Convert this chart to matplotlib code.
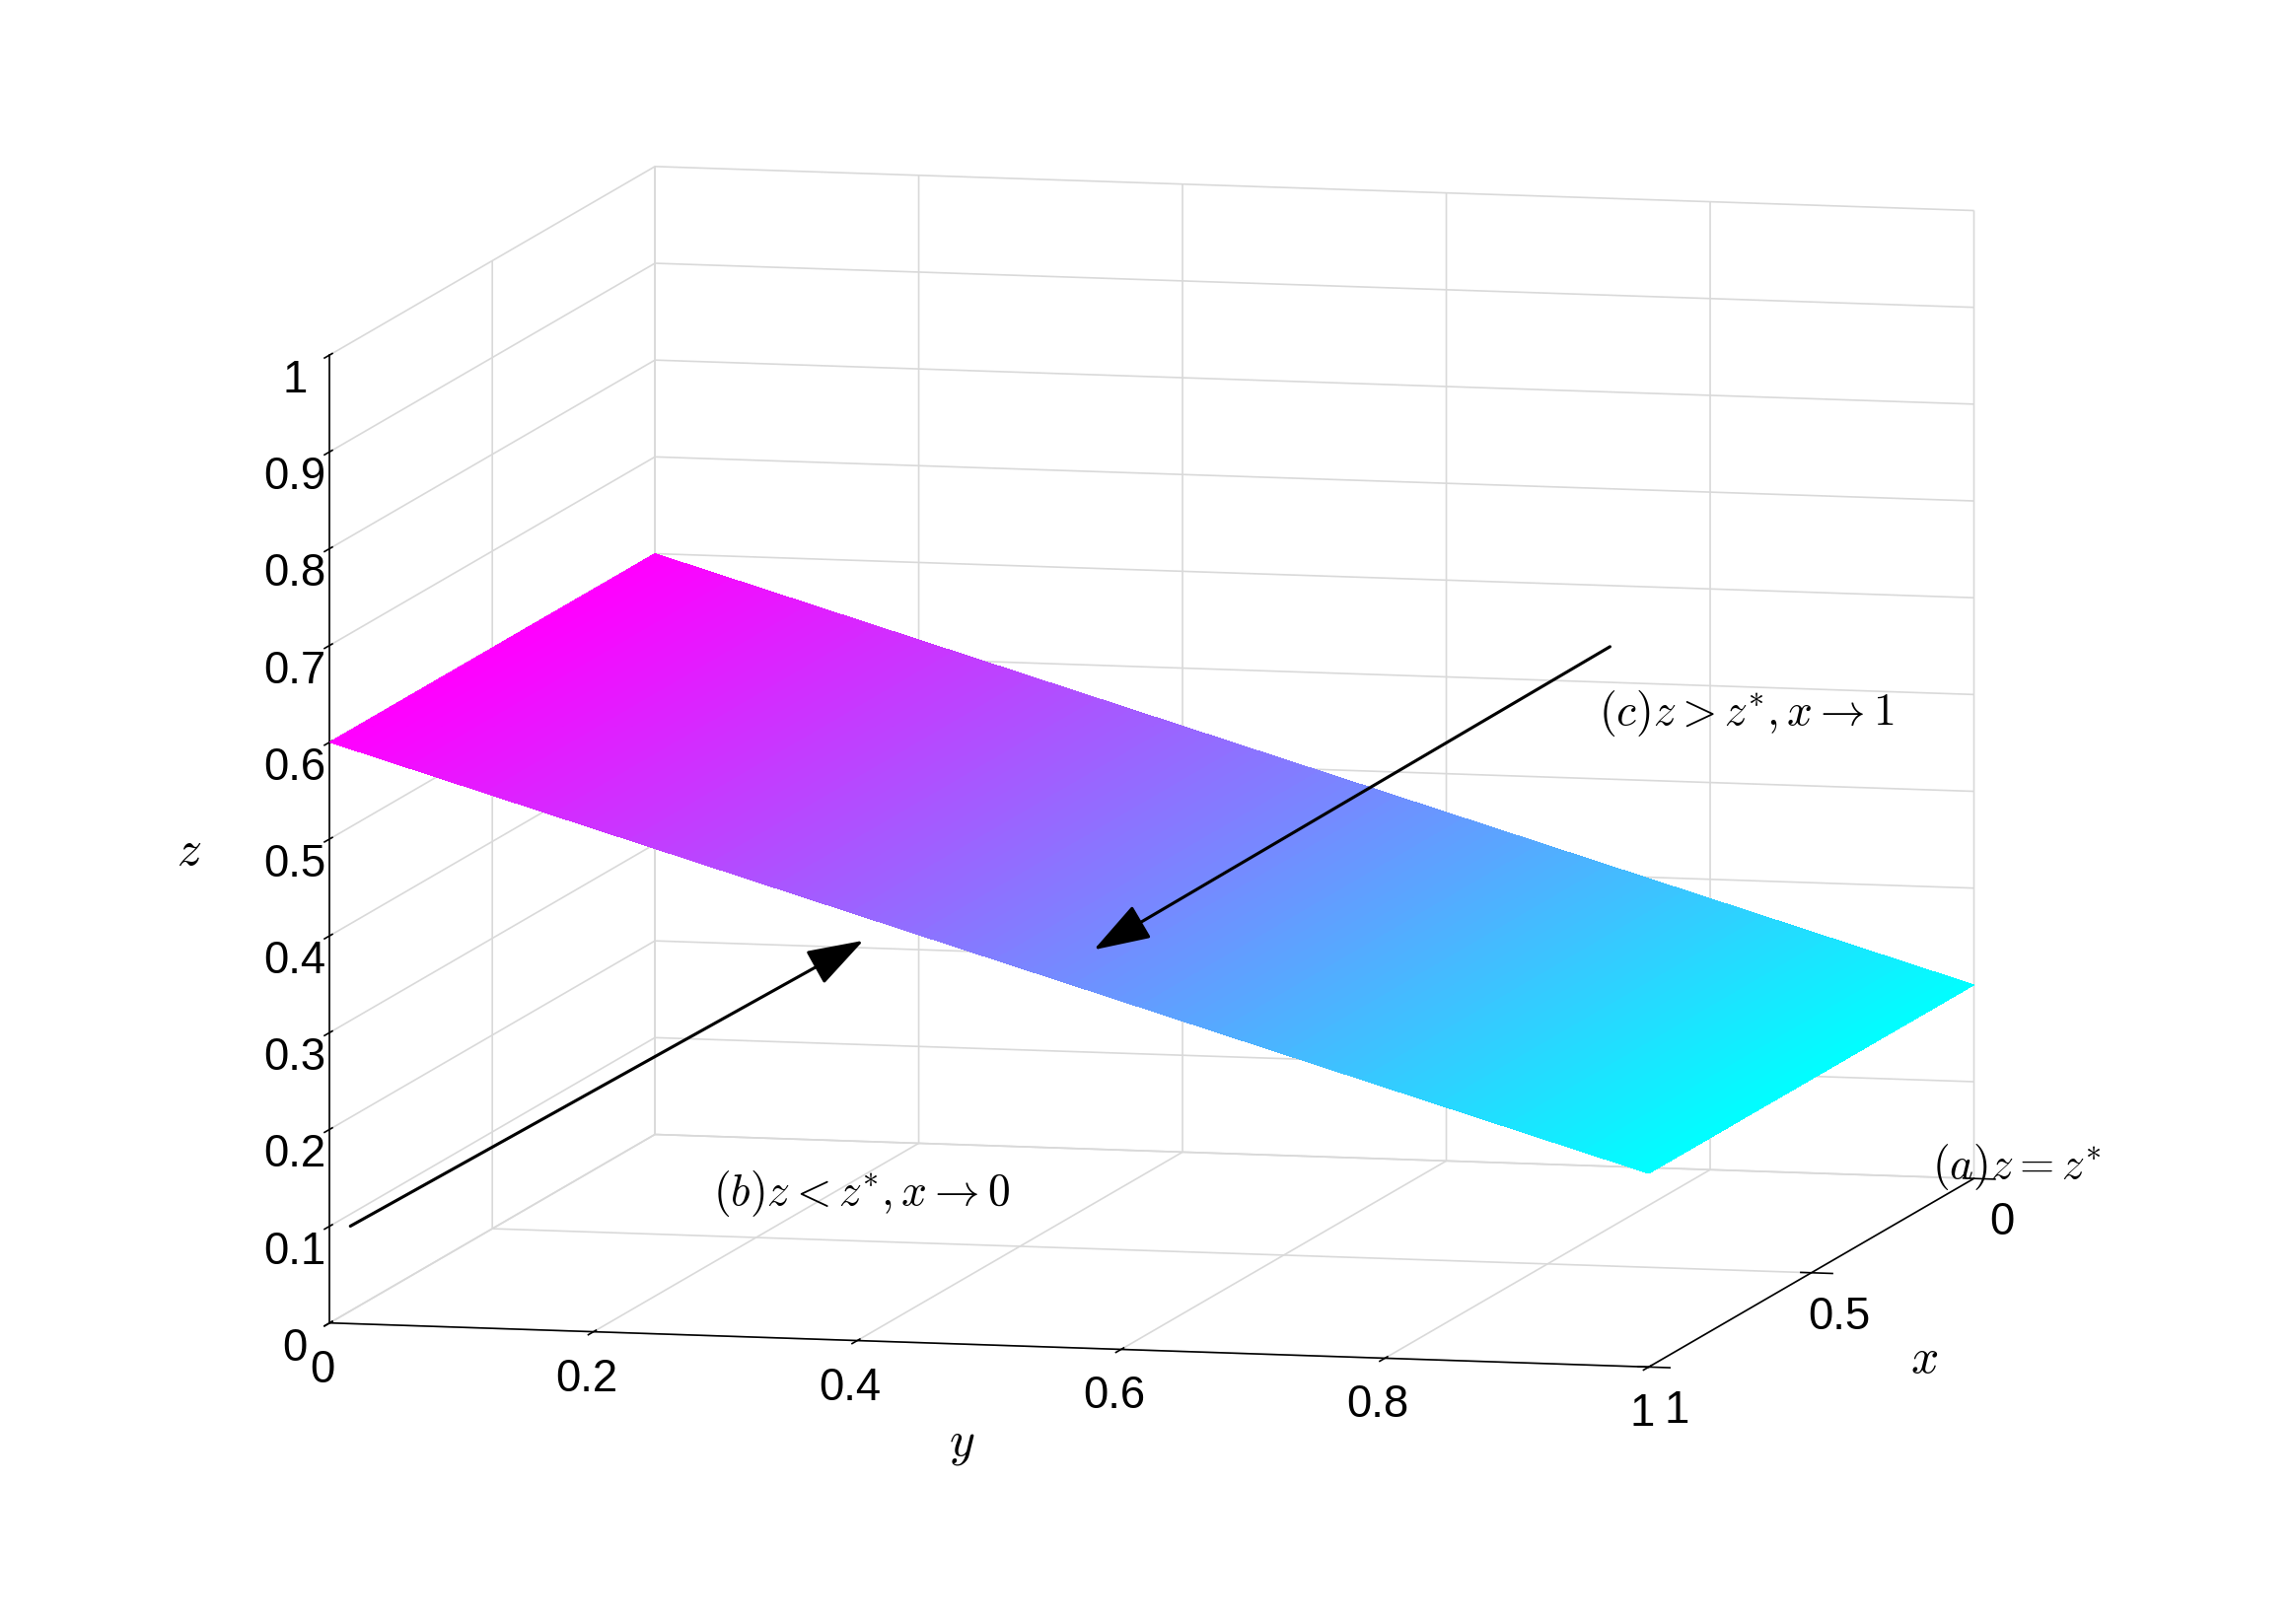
import numpy as np
import matplotlib
matplotlib.use("Agg")
import matplotlib.pyplot as plt
from matplotlib.patches import FancyArrowPatch

plt.rcParams['mathtext.fontset'] = 'cm'
plt.rcParams['font.family'] = ['Liberation Sans', 'DejaVu Sans']

# plane z = z*(y), flat in x
x_vals = np.linspace(0, 1, 60)
y_vals = np.linspace(0, 1, 120)
z_at_y0 = 0.6
z_at_y1 = 0.2

X, Y = np.meshgrid(x_vals, y_vals)
Z = z_at_y0 + (z_at_y1 - z_at_y0) * Y

fig = plt.figure(figsize=(15.6, 11.06), dpi=149)
ax = fig.add_axes([-0.12, -0.14, 1.22, 1.3], projection='3d', proj_type='ortho')
norm = plt.Normalize(Z.min(), Z.max())
ax.plot_surface(X, Y, Z, facecolors=plt.cm.cool(norm(Z)),
                rstride=1, cstride=1, linewidth=0, antialiased=False, shade=False)

ax.set_xlim(0, 1)
ax.set_ylim(0, 1)
ax.set_zlim(0, 1)
ax.set_xticks([0, 0.5, 1])
ax.set_xticklabels(['0', '0.5', '1'])
ax.set_yticks([0, 0.2, 0.4, 0.6, 0.8, 1])
ax.set_yticklabels(['0', '0.2', '0.4', '0.6', '0.8', '1'])
ax.set_zticks(np.arange(0, 1.01, 0.1))
ax.set_zticklabels(['0', '0.1', '0.2', '0.3', '0.4', '0.5', '0.6', '0.7', '0.8', '0.9', '1'])
ax.tick_params(labelsize=22)
ax.set_xlabel(r'$x$', fontsize=24, labelpad=25)
ax.set_ylabel(r'$y$', fontsize=24, labelpad=25)
ax.set_zlabel(r'$z$', fontsize=24, labelpad=25)
for a in (ax.xaxis, ax.yaxis, ax.zaxis):
    a.set_pane_color((1, 1, 1, 0))
    a._axinfo['grid']['color'] = (0.85, 0.85, 0.85, 1)
    a._axinfo['grid']['linewidth'] = 0.8
ax.set_box_aspect((1.14, 1.11, 0.8))
ax.view_init(elev=8, azim=13.5)

fig.text(1088 / 1560, 1 - 483 / 1100, r'$(c)z > z^{*}, x \rightarrow 1$', fontsize=22, va='center')
fig.text(485 / 1560, 1 - 808 / 1100, r'$(b)z < z^{*}, x \rightarrow 0$', fontsize=22, va='center')
fig.text(1315 / 1560, 1 - 790 / 1100, r'$(a)z = z^{*}$', fontsize=22, va='center')
arrow = dict(arrowstyle='-|>,head_length=1.2,head_width=0.4', color='black', lw=1.5)
fig.add_artist(FancyArrowPatch((1098 / 1560, 1 - 437 / 1100), (742 / 1560, 1 - 645 / 1100),
               transform=fig.transFigure, mutation_scale=20, **arrow))
fig.add_artist(FancyArrowPatch((236 / 1560, 1 - 832 / 1100), (590 / 1560, 1 - 636 / 1100),
               transform=fig.transFigure, mutation_scale=20, **arrow))

fig.savefig('out.png')
